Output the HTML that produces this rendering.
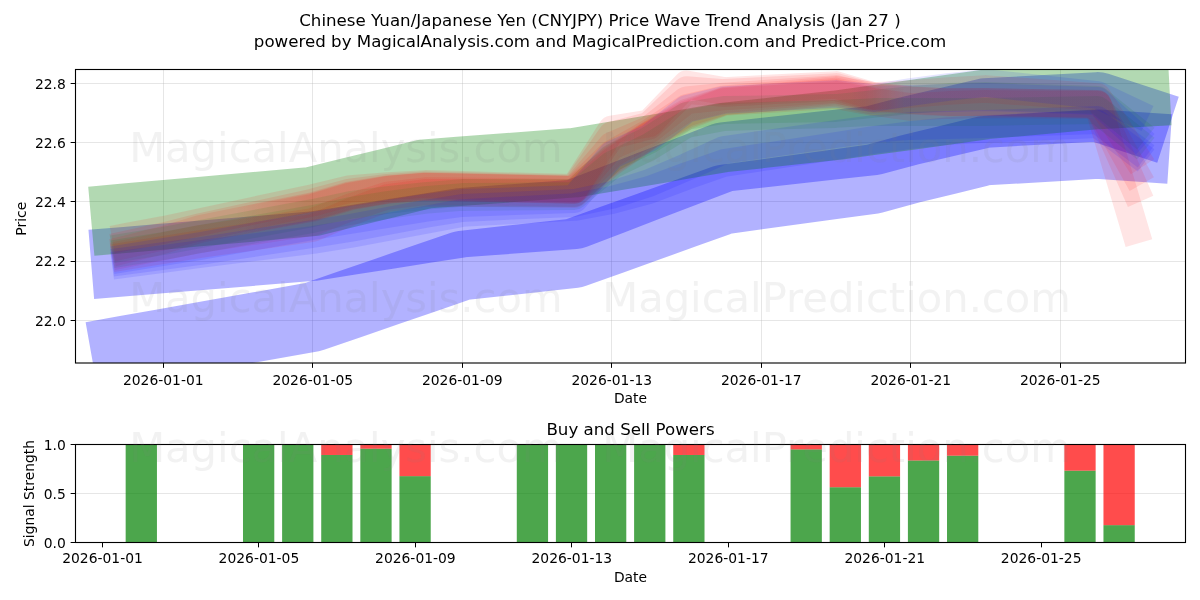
<!DOCTYPE html>
<html lang="en"><head><meta charset="utf-8"><title>Chinese Yuan/Japanese Yen (CNYJPY) Price Wave Trend Analysis</title>
<style>html,body{margin:0;padding:0;background:#fff;width:1200px;height:600px;overflow:hidden}svg{transform:translateZ(0);will-change:transform}svg text{white-space:pre;-webkit-font-smoothing:antialiased}</style></head>
<body>
<svg width="1200" height="600" viewBox="0 0 1200 600" style="display:block;font-family:'DejaVu Sans','Liberation Sans',sans-serif">
<rect width="1200" height="600" fill="#fff"/>
<clipPath id="c1"><rect x="75.5" y="69.5" width="1110.0" height="293.5"/></clipPath>
<clipPath id="c2"><rect x="75.5" y="444.5" width="1110.0" height="98.0"/></clipPath>
<g stroke="#b0b0b0" stroke-opacity="0.32" stroke-width="1">
<path d="M163.5 69.5V363.0"/>
<path d="M312.5 69.5V363.0"/>
<path d="M462.5 69.5V363.0"/>
<path d="M611.5 69.5V363.0"/>
<path d="M761.5 69.5V363.0"/>
<path d="M910.5 69.5V363.0"/>
<path d="M1060.5 69.5V363.0"/>
<path d="M75.5 320.5H1185.5"/>
<path d="M75.5 261.5H1185.5"/>
<path d="M75.5 201.5H1185.5"/>
<path d="M75.5 142.5H1185.5"/>
<path d="M75.5 83.5H1185.5"/>
</g>
<g clip-path="url(#c1)" fill="none" stroke-linecap="square" stroke-linejoin="round">
<polyline points="125.88,350.3 163.25,343.64 200.62,336.98 312.75,317 350.12,304.12 387.5,291.25 424.88,278.38 462.25,265.5 574.38,253.2 611.75,239.77 649.12,226.35 686.5,212.93 723.88,199.5 836,184.2 873.38,179 910.75,168.7 948.12,159.65 985.5,150.6 1097.62,144.2 1135,146.7" stroke="#0000ff" stroke-opacity="0.3" stroke-width="69.44"/>
<polyline points="125.88,261.5 163.25,258.44 200.62,255.38 312.75,246.2 350.12,240.3 387.5,234.4 424.88,228.5 462.25,222.6 574.38,214.4 611.75,200.05 649.12,185.7 686.5,171.35 723.88,157 836,144.5 873.38,140.4 910.75,130.5 948.12,121.75 985.5,113 1097.62,106.8 1135,119" stroke="#0000ff" stroke-opacity="0.3" stroke-width="69.44"/>
<polyline points="125.88,218.2 163.25,214.86 200.62,211.52 312.75,201.5 350.12,192.33 387.5,183.17 424.88,174 462.25,171.18 574.38,162.7 611.75,156.42 649.12,150.15 686.5,143.88 723.88,137.6 836,125.3 873.38,120.15 910.75,115 948.12,109.75 985.5,104.5 1097.62,94.5 1135,92.5" stroke="#008000" stroke-opacity="0.3" stroke-width="69.44"/>
<polyline points="125.88,237 163.25,230 200.62,222 312.75,198 350.12,189 387.5,186 424.88,184 462.25,185 574.38,188 611.75,129.5 649.12,123.4 686.5,84.5 723.88,91 836,85 873.38,96 910.75,100 948.12,102 985.5,102 1097.62,104 1135,229.8" stroke="#ff0000" stroke-opacity="0.1" stroke-width="27.78"/>
<polyline points="125.88,244.6 163.25,236.4 200.62,227.06 312.75,202.5 350.12,192.45 387.5,187.8 424.88,185.35 462.25,186.2 574.38,188.9 611.75,135.35 649.12,125.67 686.5,90.17 723.88,92.98 836,87 873.38,97.2 910.75,100.7 948.12,102.3 985.5,102.2 1097.62,104.1 1135,188.6" stroke="#ff0000" stroke-opacity="0.1" stroke-width="27.78"/>
<linearGradient id="g1" gradientUnits="userSpaceOnUse" x1="76" y1="0" x2="1186" y2="0"><stop offset="0%" stop-color="#ff0000" stop-opacity="0.1"/><stop offset="71.08%" stop-color="#ff0000" stop-opacity="0.1"/><stop offset="74.68%" stop-color="#ff0000" stop-opacity="0"/><stop offset="100%" stop-color="#ff0000" stop-opacity="0"/></linearGradient>
<polyline points="125.88,249.35 163.25,240 200.62,228.82 312.75,206.1 350.12,195.21 387.5,189.24 424.88,186.43 462.25,187.16 574.38,189.62 611.75,145.75 649.12,129.7 686.5,100.25 723.88,96.5 836,89 873.38,98.4 910.75,101.4 948.12,102.6 985.5,102.4 1097.62,104.2 1135,160" stroke="url(#g1)" stroke-width="27.78"/>
<linearGradient id="g2" gradientUnits="userSpaceOnUse" x1="76" y1="0" x2="1186" y2="0"><stop offset="0%" stop-color="#ff0000" stop-opacity="0.1"/><stop offset="71.08%" stop-color="#ff0000" stop-opacity="0.1"/><stop offset="74.68%" stop-color="#ff0000" stop-opacity="0"/><stop offset="100%" stop-color="#ff0000" stop-opacity="0"/></linearGradient>
<polyline points="125.88,253.72 163.25,246.4 200.62,238.94 312.75,222 350.12,207.4 387.5,195.6 424.88,191.2 462.25,191.4 574.38,192.8 611.75,158.75 649.12,134.74 686.5,112.85 723.88,100.9 836,93 873.38,100.8 910.75,103.5 948.12,103.5 985.5,103 1097.62,104.5 1135,172" stroke="url(#g2)" stroke-width="27.78"/>
<polyline points="125.88,256 163.25,250 200.62,244 312.75,228 350.12,212 387.5,198 424.88,193 462.25,193 574.38,194 611.75,162 649.12,136 686.5,116 723.88,102 836,95 873.38,102 910.75,107 948.12,105 985.5,104 1097.62,105 1135,172" stroke="#ff0000" stroke-opacity="0.1" stroke-width="27.78"/>
<linearGradient id="g3" gradientUnits="userSpaceOnUse" x1="76" y1="0" x2="1186" y2="0"><stop offset="0%" stop-color="#ff0000" stop-opacity="0"/><stop offset="14.32%" stop-color="#ff0000" stop-opacity="0"/><stop offset="21.08%" stop-color="#ff0000" stop-opacity="0.1"/><stop offset="100%" stop-color="#ff0000" stop-opacity="0.1"/></linearGradient>
<polyline points="200.62,228.6 312.75,207 350.12,195.9 387.5,189.6 424.88,186.7 462.25,187.4 574.38,189.8 611.75,153.88 649.12,132.85 686.5,108.12 723.88,99.25 836,90 873.38,96 910.75,94 948.12,91 985.5,89 1097.62,97 1135,155" stroke="url(#g3)" stroke-width="27.78"/>
<linearGradient id="g4" gradientUnits="userSpaceOnUse" x1="76" y1="0" x2="1186" y2="0"><stop offset="0%" stop-color="#ff0000" stop-opacity="0"/><stop offset="14.32%" stop-color="#ff0000" stop-opacity="0"/><stop offset="21.08%" stop-color="#ff0000" stop-opacity="0.1"/><stop offset="71.08%" stop-color="#ff0000" stop-opacity="0.1"/><stop offset="74.68%" stop-color="#ff0000" stop-opacity="0"/><stop offset="100%" stop-color="#ff0000" stop-opacity="0"/></linearGradient>
<polyline points="200.62,228.6 312.75,207.9 350.12,196.59 387.5,189.96 424.88,186.97 462.25,187.64 574.38,189.98 611.75,160.38 649.12,135.37 686.5,114.42 723.88,101.45 836,91.5 873.38,99 910.75,97 948.12,94 985.5,92 1097.62,100 1135,143" stroke="url(#g4)" stroke-width="27.78"/>
<polyline points="125.88,247 163.25,241 200.62,234 312.75,213 350.12,205 387.5,200 424.88,196 462.25,193 574.38,193 611.75,158 649.12,140 686.5,116 723.88,110 836,108 873.38,104 910.75,100 948.12,97 985.5,96 1097.62,100 1135,130" stroke="#008000" stroke-opacity="0.1" stroke-width="27.78"/>
<polyline points="125.88,252 163.25,246 200.62,239 312.75,219 350.12,211 387.5,205 424.88,200 462.25,197 574.38,196 611.75,165 649.12,147 686.5,124 723.88,117 836,114 873.38,112 910.75,112 948.12,112 985.5,112 1097.62,110 1135,140" stroke="#008000" stroke-opacity="0.1" stroke-width="27.78"/>
<polyline points="125.88,261 163.25,256 200.62,251 312.75,234 350.12,228 387.5,221 424.88,214 462.25,208 574.38,203 611.75,195 649.12,183 686.5,167 723.88,150 836,134 873.38,129 910.75,126 948.12,125 985.5,124 1097.62,120 1135,148" stroke="#0000ff" stroke-opacity="0.1" stroke-width="27.78"/>
<polyline points="125.88,264 163.25,259 200.62,254 312.75,240 350.12,234 387.5,227 424.88,220 462.25,213 574.38,207 611.75,200 649.12,190 686.5,176 723.88,163 836,146 873.38,140 910.75,135 948.12,131 985.5,129 1097.62,124 1135,152" stroke="#0000ff" stroke-opacity="0.1" stroke-width="27.78"/>
<polyline points="125.88,258 163.25,252 200.62,246 312.75,226 350.12,220 387.5,214 424.88,208 462.25,203 574.38,199 611.75,155 649.12,138 686.5,109 723.88,100 836,94 873.38,98 910.75,92 948.12,87 985.5,83 1097.62,95 1135,112.6" stroke="#0000ff" stroke-opacity="0.1" stroke-width="27.78"/>
<linearGradient id="g5" gradientUnits="userSpaceOnUse" x1="76" y1="0" x2="1186" y2="0"><stop offset="0%" stop-color="#0000ff" stop-opacity="0"/><stop offset="69.73%" stop-color="#0000ff" stop-opacity="0"/><stop offset="74.68%" stop-color="#0000ff" stop-opacity="0.1"/><stop offset="100%" stop-color="#0000ff" stop-opacity="0.1"/></linearGradient>
<polyline points="723.88,112 836,100 873.38,100 910.75,99 948.12,98 985.5,97 1097.62,101 1135,135" stroke="url(#g5)" stroke-width="27.78"/>
</g>
<g stroke="#000" stroke-width="1">
<path d="M163.5 363.0v4.86"/>
<path d="M312.5 363.0v4.86"/>
<path d="M462.5 363.0v4.86"/>
<path d="M611.5 363.0v4.86"/>
<path d="M761.5 363.0v4.86"/>
<path d="M910.5 363.0v4.86"/>
<path d="M1060.5 363.0v4.86"/>
<path d="M75.5 320.5h-4.86"/>
<path d="M75.5 261.5h-4.86"/>
<path d="M75.5 201.5h-4.86"/>
<path d="M75.5 142.5h-4.86"/>
<path d="M75.5 83.5h-4.86"/>
</g>
<rect x="75.5" y="69.5" width="1110.0" height="293.5" fill="none" stroke="#000" stroke-width="1.11"/>
<g font-size="13.889" fill="#000">
<text x="163.25" y="384.6" text-anchor="middle">2026-01-01</text>
<text x="312.75" y="384.6" text-anchor="middle">2026-01-05</text>
<text x="462.25" y="384.6" text-anchor="middle">2026-01-09</text>
<text x="611.75" y="384.6" text-anchor="middle">2026-01-13</text>
<text x="761.25" y="384.6" text-anchor="middle">2026-01-17</text>
<text x="910.75" y="384.6" text-anchor="middle">2026-01-21</text>
<text x="1060.25" y="384.6" text-anchor="middle">2026-01-25</text>
<text x="65.8" y="326" text-anchor="end">22.0</text>
<text x="65.8" y="266.35" text-anchor="end">22.2</text>
<text x="65.8" y="207.1" text-anchor="end">22.4</text>
<text x="65.8" y="147.85" text-anchor="end">22.6</text>
<text x="65.8" y="88.6" text-anchor="end">22.8</text>
<text x="630.5" y="403.0" text-anchor="middle">Date</text>
<text transform="translate(25.5 218.75) rotate(-90)" text-anchor="middle">Price</text>
</g>
<g stroke="#b0b0b0" stroke-opacity="0.32" stroke-width="1">
<path d="M75.5 542.5H1185.5"/>
<path d="M75.5 493.5H1185.5"/>
<path d="M75.5 444.5H1185.5"/>
</g>
<g clip-path="url(#c2)" fill-opacity="0.7">
<rect x="125.66" y="444.5" width="31.29" height="98" fill="#008000"/>
<rect x="242.99" y="444.5" width="31.29" height="98" fill="#008000"/>
<rect x="282.11" y="444.5" width="31.29" height="98" fill="#008000"/>
<rect x="321.22" y="454.99" width="31.29" height="87.51" fill="#008000"/>
<rect x="321.22" y="444.5" width="31.29" height="10.49" fill="#ff0000"/>
<rect x="360.33" y="448.71" width="31.29" height="93.79" fill="#008000"/>
<rect x="360.33" y="444.5" width="31.29" height="4.21" fill="#ff0000"/>
<rect x="399.44" y="476.15" width="31.29" height="66.35" fill="#008000"/>
<rect x="399.44" y="444.5" width="31.29" height="31.65" fill="#ff0000"/>
<rect x="516.78" y="444.5" width="31.29" height="98" fill="#008000"/>
<rect x="555.89" y="444.5" width="31.29" height="98" fill="#008000"/>
<rect x="595" y="444.5" width="31.29" height="98" fill="#008000"/>
<rect x="634.11" y="444.5" width="31.29" height="98" fill="#008000"/>
<rect x="673.23" y="454.99" width="31.29" height="87.51" fill="#008000"/>
<rect x="673.23" y="444.5" width="31.29" height="10.49" fill="#ff0000"/>
<rect x="790.56" y="449.4" width="31.29" height="93.1" fill="#008000"/>
<rect x="790.56" y="444.5" width="31.29" height="4.9" fill="#ff0000"/>
<rect x="829.67" y="487.23" width="31.29" height="55.27" fill="#008000"/>
<rect x="829.67" y="444.5" width="31.29" height="42.73" fill="#ff0000"/>
<rect x="868.79" y="476.35" width="31.29" height="66.15" fill="#008000"/>
<rect x="868.79" y="444.5" width="31.29" height="31.85" fill="#ff0000"/>
<rect x="907.9" y="460.47" width="31.29" height="82.03" fill="#008000"/>
<rect x="907.9" y="444.5" width="31.29" height="15.97" fill="#ff0000"/>
<rect x="947.01" y="455.67" width="31.29" height="86.83" fill="#008000"/>
<rect x="947.01" y="444.5" width="31.29" height="11.17" fill="#ff0000"/>
<rect x="1064.35" y="470.67" width="31.29" height="71.83" fill="#008000"/>
<rect x="1064.35" y="444.5" width="31.29" height="26.17" fill="#ff0000"/>
<rect x="1103.46" y="525.15" width="31.29" height="17.35" fill="#008000"/>
<rect x="1103.46" y="444.5" width="31.29" height="80.65" fill="#ff0000"/>
</g>
<g stroke="#000" stroke-width="1">
<path d="M102.5 542.5v4.86"/>
<path d="M258.5 542.5v4.86"/>
<path d="M415.5 542.5v4.86"/>
<path d="M571.5 542.5v4.86"/>
<path d="M728.5 542.5v4.86"/>
<path d="M884.5 542.5v4.86"/>
<path d="M1041.5 542.5v4.86"/>
<path d="M75.5 542.5h-4.86"/>
<path d="M75.5 493.5h-4.86"/>
<path d="M75.5 444.5h-4.86"/>
</g>
<rect x="75.5" y="444.5" width="1110.0" height="98.0" fill="none" stroke="#000" stroke-width="1.11"/>
<g font-size="13.889" fill="#000">
<text x="102.49" y="562.6" text-anchor="middle">2026-01-01</text>
<text x="258.94" y="562.6" text-anchor="middle">2026-01-05</text>
<text x="415.39" y="562.6" text-anchor="middle">2026-01-09</text>
<text x="571.83" y="562.6" text-anchor="middle">2026-01-13</text>
<text x="728.28" y="562.6" text-anchor="middle">2026-01-17</text>
<text x="884.73" y="562.6" text-anchor="middle">2026-01-21</text>
<text x="1041.18" y="562.6" text-anchor="middle">2026-01-25</text>
<text x="65.8" y="547.7" text-anchor="end">0.0</text>
<text x="65.8" y="498.7" text-anchor="end">0.5</text>
<text x="65.8" y="449.7" text-anchor="end">1.0</text>
<text x="630.5" y="582.0" text-anchor="middle">Date</text>
<text transform="translate(33.5 493.5) rotate(-90)" text-anchor="middle">Signal Strength</text>
</g>
<text x="630.5" y="434.5" font-size="16.667" text-anchor="middle" fill="#000">Buy and Sell Powers</text>
<text font-size="16.667" text-anchor="middle" fill="#000"><tspan x="600" y="26.0">Chinese Yuan/Japanese Yen (CNYJPY) Price Wave Trend Analysis (Jan 27 )</tspan><tspan x="600" y="46.7">powered by MagicalAnalysis.com and MagicalPrediction.com and Predict-Price.com</tspan></text>
<g font-size="41.67" fill="#808080" fill-opacity="0.1" text-anchor="middle" style="white-space:pre">
<text x="600" y="161.5">MagicalAnalysis.com   MagicalPrediction.com</text>
<text x="600" y="311.5">MagicalAnalysis.com   MagicalPrediction.com</text>
<text x="600" y="461.5">MagicalAnalysis.com   MagicalPrediction.com</text>
</g>
</svg>
</body></html>
